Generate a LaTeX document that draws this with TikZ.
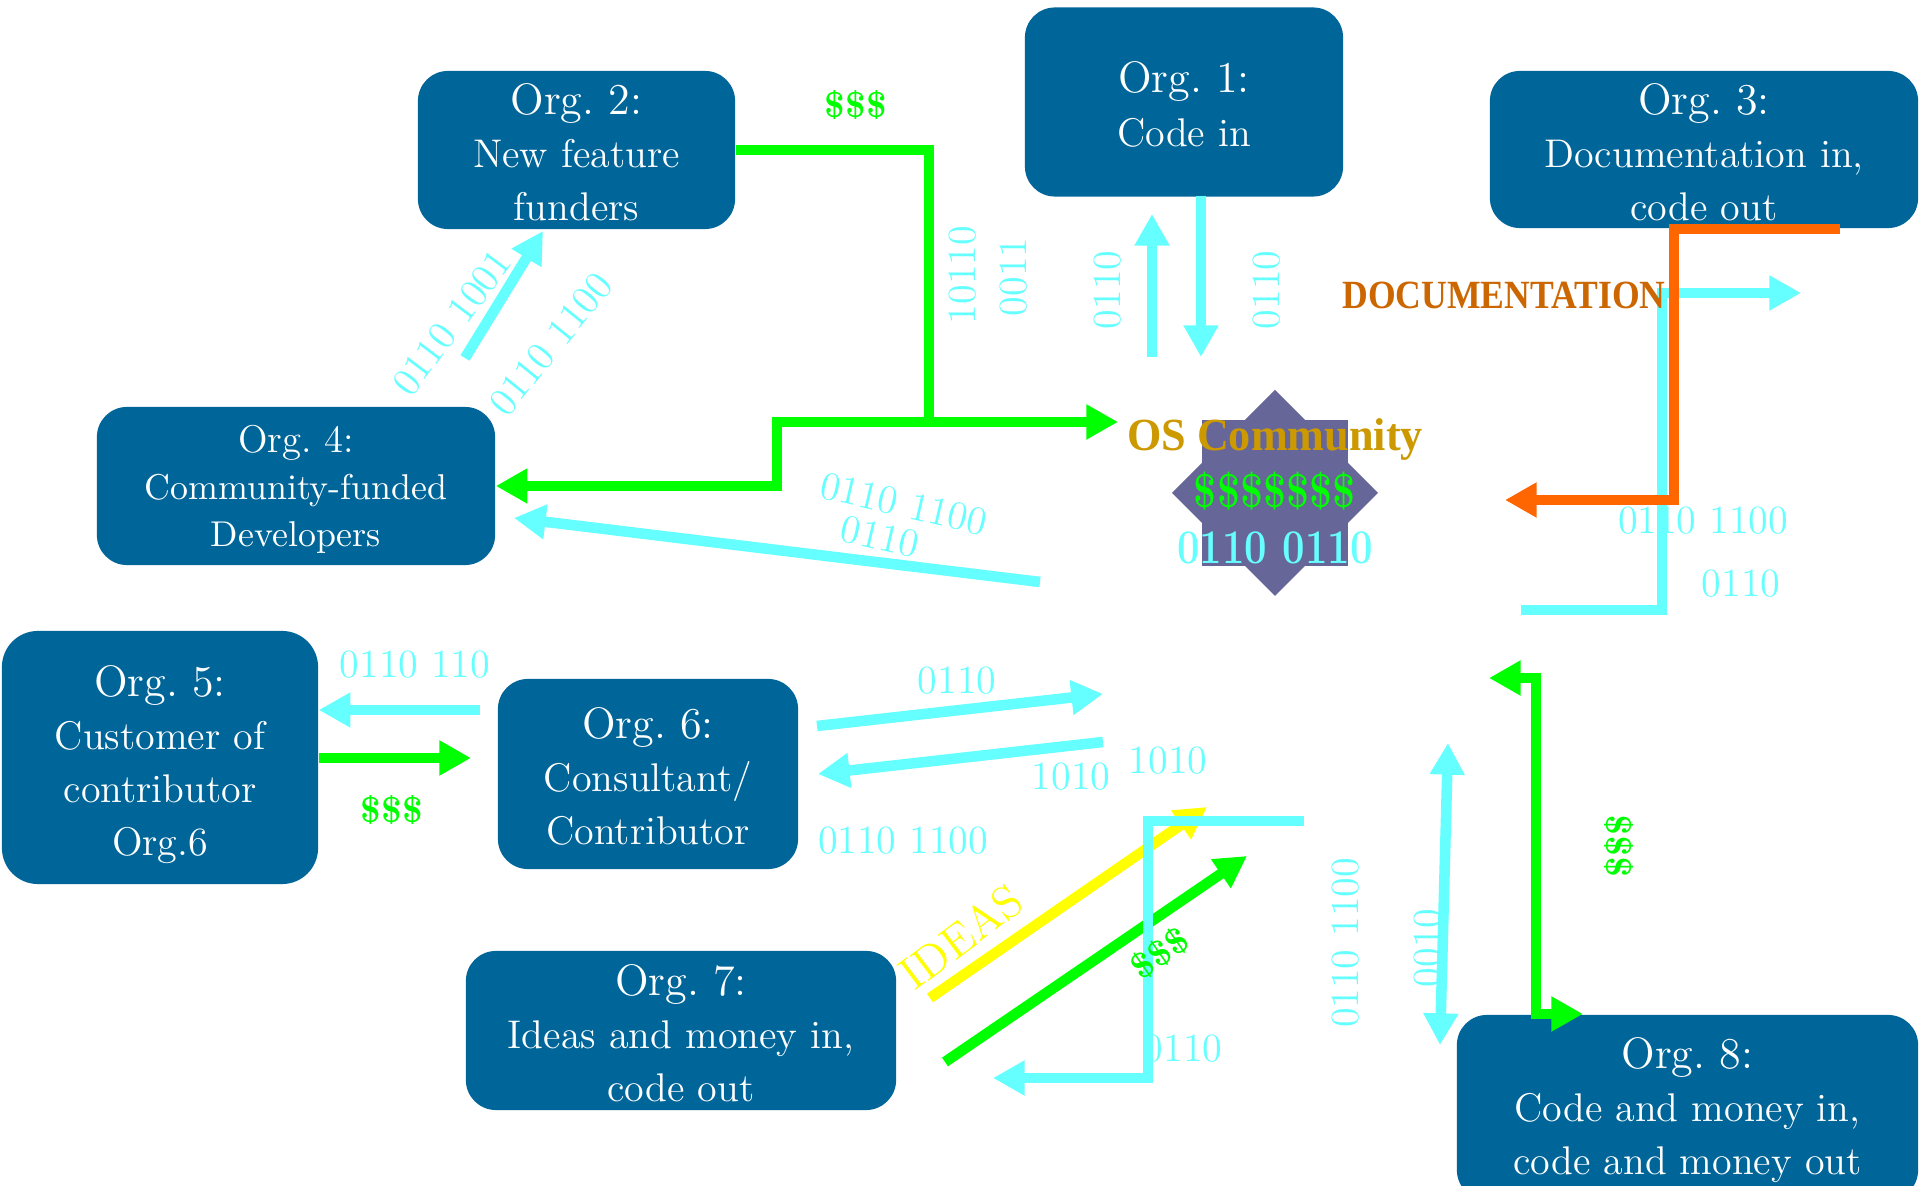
\documentclass[tikz,border=0pt]{standalone}
\usepackage{fontspec}
\usepackage{graphicx}
\usetikzlibrary{arrows.meta}

\newfontfamily\heavyserif{Liberation Serif}

\definecolor{orgblue}{HTML}{006699}
\definecolor{bitcyan}{HTML}{66FFFF}
\definecolor{cashgreen}{HTML}{00FF00}
\definecolor{ideayellow}{HTML}{FFFF00}
\definecolor{docorange}{HTML}{FF6600}
\definecolor{doctext}{HTML}{CC6600}
\definecolor{gold}{HTML}{CC9900}
\definecolor{starblue}{HTML}{666699}

\newcommand\titlefont{\fontsize{12.52}{15.08}\selectfont}
\newcommand\bodyfont{\fontsize{11.38}{15.08}\selectfont}
% title line of an organisation box; the optional strut height nudges the text block down
\newcommand\orgtitle[2][10.2pt]{{\titlefont\rule{0pt}{#1}#2}}

\tikzset{
  org/.style={fill=orgblue, rounded corners=0.3cm, text=white, align=center,
    inner sep=0pt, font=\bodyfont},
  bits/.style={text=bitcyan, inner sep=0pt, font=\fontsize{11.38}{13}\selectfont},
  cash/.style={text=cashgreen, inner sep=0pt, font=\bfseries\fontsize{10.24}{12}\selectfont},
  flow/.style={line width=3pt},
  cyanflow/.style={flow, draw=bitcyan},
  greenflow/.style={flow, draw=cashgreen},
  >={Triangle[length=9pt,width=9.4pt]}
}

\begin{document}
\frenchspacing
\begin{tikzpicture}[x=0.01cm, y=-0.01cm]
\useasboundingbox (0,0) rectangle (1920,1186);
\fill[white] (0,0) rectangle (1920,1186);

% organisations
\node[org, minimum width=3.18cm, minimum height=1.89cm] (org1) at (1184,102)
  {\orgtitle{Org. 1:}\\Code in};
\node[org, minimum width=3.17cm, minimum height=1.58cm] (org2) at (576.5,150)
  {\orgtitle{Org. 2:}\\New feature\\funders};
\node[org, minimum width=4.28cm, minimum height=1.57cm] (org3) at (1704,149.5)
  {\orgtitle{Org. 3:}\\Documentation in,\\code out};
\node[org, minimum width=3.98cm, minimum height=1.58cm,
      font=\fontsize{10.2}{13.4}\selectfont] (org4) at (296,486)
  {{\fontsize{11}{13.4}\selectfont\rule{0pt}{9.6pt}Org. 4:}\\Community-funded\\Developers};
\node[org, rounded corners=0.36cm, minimum width=3.16cm, minimum height=2.53cm] (org5) at (160,757.5)
  {\orgtitle[12.8pt]{Org. 5:}\\Customer of\\contributor\\Org.6};
\node[org, minimum width=3.00cm, minimum height=1.90cm] (org6) at (648,774)
  {\orgtitle{Org. 6:}\\Consultant/\\Contributor};
\node[org, minimum width=4.30cm, minimum height=1.59cm] (org7) at (681,1030.5)
  {\orgtitle{Org. 7:}\\Ideas and money in,\\code out};
\node[org, minimum width=4.61cm, minimum height=1.85cm] (org8) at (1687.5,1107.5)
  {\orgtitle{Org. 8:}\\Code and money in,\\code and money out};

% the community: an eight-pointed star
\fill[starblue] (1202,420) rectangle (1348,566);
\fill[starblue] (1275,390) -- (1378,493) -- (1275,596) -- (1172,493) -- cycle;
\coordinate (hub) at (1275,493);

% free ends of the flows
\coordinate (gJoin) at (929,422);
\coordinate (gHub) at (1118,422);
\coordinate (gStep) at (777,422);
\coordinate (c4a) at (1040,582);
\coordinate (c4b) at (514,518);
\coordinate (c2a) at (465,358);
\coordinate (c2b) at (543,231);
\coordinate (c1up) at (1152,357);
\coordinate (c1top) at (1152,214);
\coordinate (c1out) at (1201,196);
\coordinate (c1down) at (1201,357);
\coordinate (oStart) at (1840,229);
\coordinate (oCorner) at (1674,229);
\coordinate (oTip) at (1505,500);
\coordinate (dStart) at (1521,610);
\coordinate (dCorner) at (1662,610);
\coordinate (dTip) at (1801,293);
\coordinate (c56) at (480,710);
\coordinate (g56) at (471,758);
\coordinate (c6out) at (817,726);
\coordinate (c6far) at (1103,694);
\coordinate (c6back) at (1103,742);
\coordinate (c6in) at (818,774);
\coordinate (yStart) at (930,998);
\coordinate (yTip) at (1207,807);
\coordinate (g7Start) at (945,1062);
\coordinate (g7Tip) at (1247,856);
\coordinate (c7Start) at (1304,821);
\coordinate (c7Corner) at (1148,821);
\coordinate (c7Tip) at (993,1078);
\coordinate (c8top) at (1448,743);
\coordinate (c8bot) at (1440,1045);
\coordinate (g8top) at (1489,678);
\coordinate (g8bend) at (1536,678);
\coordinate (g8tip) at (1583,1014);

% money from Org. 2 to the community and on to Org. 4
\draw[greenflow, ->] (org2.east) -| (gJoin) -- (gHub);
\draw[greenflow, ->] (gJoin) -- (gStep) |- (org4.east);

% code between the community, Org. 4 and Org. 2
\draw[cyanflow, ->] (c4a) -- (c4b);
\draw[cyanflow, ->] (c2a) -- (c2b);

% code in and out of Org. 1
\draw[cyanflow, ->] (c1up) -- (c1top);
\draw[cyanflow, ->] (c1out) -- (c1down);

% Org. 3: code out, documentation in
\draw[cyanflow, ->] (dStart) -- (dCorner) |- (dTip);
\draw[flow, draw=docorange, ->] (oStart) -- (oCorner) |- (oTip);

% Org. 5 and Org. 6
\draw[cyanflow, ->] (c56) -- (org5.east |- c56);
\draw[greenflow, ->] (org5.east |- g56) -- (g56);
\draw[cyanflow, ->] (c6out) -- (c6far);
\draw[cyanflow, ->] (c6back) -- (c6in);

% Org. 7
\draw[flow, draw=ideayellow, ->] (yStart) -- (yTip);
\draw[greenflow, ->] (g7Start) -- (g7Tip);
\draw[cyanflow, ->] (c7Start) -- (c7Corner) |- (c7Tip);

% Org. 8
\draw[cyanflow, <->] (c8top) -- (c8bot);
\draw[greenflow, <->] (g8top) -- (g8bend) |- (g8tip);

% community labels
\node[anchor=base, text=gold, inner sep=0pt,
      font=\heavyserif\bfseries\fontsize{13.09}{15}\selectfont] (os) at (1275,451)
  {\scalebox{0.96}[1]{OS Community}};
\node[anchor=base, text=cashgreen, inner sep=0pt,
      font=\bfseries\fontsize{11.7}{14}\selectfont] (osCash) at (1275,508)
  {\scalebox{1}[1.15]{\$\$\$\$\$\$\$}};
\node[anchor=base, text=bitcyan, inner sep=0pt,
      font=\bfseries\fontsize{13.09}{15}\selectfont] (osBits) at (1275,564)
  {\scalebox{0.87}[1.05]{0110 0110}};

% flow labels
\node[cash] (l1) at (856,105) {\$\$\$};
\node[bits, rotate=90] (l2) at (963,275) {10110};
\node[bits, rotate=90] (l3) at (1014,277) {0011};
\node[bits, rotate=90] (l4) at (1108,290) {0110};
\node[bits, rotate=90] (l5) at (1267,290) {0110};
\node[text=doctext, inner sep=0pt,
      font=\heavyserif\bfseries\fontsize{11.38}{13}\selectfont] (l6)
  at (1504,295) {\scalebox{0.89}[1]{DOCUMENTATION}};
\node[bits] (l7) at (1703,521) {0110 1100};
\node[bits] (l8) at (1741,584) {0110};
\node[bits, rotate=53] (l9) at (452,323) {0110 1001};
\node[bits, rotate=51] (l10) at (551,344) {0110 1100};
\node[bits, rotate=-13] (l11) at (904,504) {0110 1100};
\node[bits, rotate=-13] (l12) at (880,537) {0110};
\node[bits] (l13) at (415,665) {0110 110};
\node[cash] (l14) at (392,810) {\$\$\$};
\node[bits] (l15) at (957,681) {0110};
\node[bits] (l16) at (1071,777) {1010};
\node[bits] (l17) at (1168,761) {1010};
\node[bits] (l18) at (903,841) {0110 1100};
\node[text=ideayellow, inner sep=0pt, rotate=37,
      font=\fontsize{13.09}{15}\selectfont] (l19) at (961,937) {IDEAS};
\node[cash, rotate=35] (l20) at (1160,953) {\$\$\$};
\node[bits] (l21) at (1183,1049) {0110};
\node[bits, rotate=90] (l22) at (1346,943) {0110 1100};
\node[bits, rotate=90] (l23) at (1428,948) {0010};
\node[cash, rotate=90] (l24) at (1619,846) {\$\$\$};
\end{tikzpicture}
\end{document}
